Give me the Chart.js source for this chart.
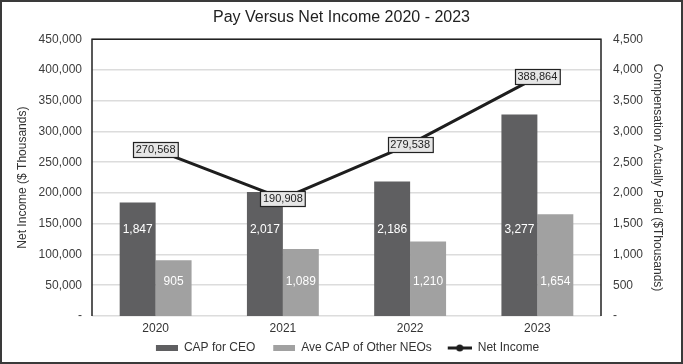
<!DOCTYPE html>
<html>
<head>
<meta charset="utf-8">
<script src="https://cdn.jsdelivr.net/npm/chart.js@4/dist/chart.umd.min.js"></script>
<style>
  html, body { margin: 0; padding: 0; background: #fff; }
  #wrap { width: 683px; height: 364px; position: relative; }
</style>
</head>
<body>
<div id="wrap"><canvas id="payChart" width="683" height="364"></canvas></div>
<script>
// data
const years = ["2020", "2021", "2022", "2023"];
const capCeo = [1847, 2017, 2186, 3277];
const capOtherNeos = [905, 1089, 1210, 1654];
const netIncome = [270568, 190908, 279538, 388864];

const FONT = "'Liberation Sans', Arial, sans-serif";
const CEO_COLOR = "#5f5f61";
const NEO_COLOR = "#a1a1a1";
const LINE_COLOR = "#1e1e1e";

function fmt(v) {
    return v === 0 ? "-" : v.toLocaleString("en-US");
}

// legend swatches, drawn on the right of a wider canvas so items get more room between them
function swatch(kind, color) {
    const c = document.createElement("canvas");
    c.width = 34;
    c.height = 8;
    const g = c.getContext("2d");
    if (kind === "bar") {
        g.fillStyle = color;
        g.fillRect(12, 1, 22, 6);
    } else {
        g.strokeStyle = color;
        g.lineWidth = 3;
        g.beginPath();
        g.moveTo(10, 4);
        g.lineTo(34, 4);
        g.stroke();
        g.fillStyle = color;
        g.beginPath();
        g.arc(22, 4, 3.5, 0, Math.PI * 2);
        g.fill();
    }
    return c;
}

// frame around the plot and the whole picture, plus value labels
const decorations = {
    id: "decorations",
    afterDraw(chart) {
        const ctx = chart.ctx;
        const a = chart.chartArea;
        ctx.save();
        ctx.strokeStyle = "#222";
        ctx.lineWidth = 1.5;
        ctx.beginPath();
        ctx.moveTo(a.left, a.bottom);
        ctx.lineTo(a.left, a.top);
        ctx.lineTo(a.right, a.top);
        ctx.lineTo(a.right, a.bottom);
        ctx.stroke();
        ctx.strokeStyle = "#3a3a3a";
        ctx.lineWidth = 2;
        ctx.strokeRect(1, 1, chart.width - 2, chart.height - 2);
        ctx.restore();
    },
    afterDatasetsDraw(chart) {
        const ctx = chart.ctx;
        const y1 = chart.scales.y1;
        ctx.save();
        ctx.textAlign = "center";
        ctx.textBaseline = "middle";

        // bar labels sit at a fixed height inside the bars
        ctx.font = "12px " + FONT;
        ctx.fillStyle = "#fff";
        [[0, 1400], [1, 550]].forEach(([di, anchor]) => {
            const meta = chart.getDatasetMeta(di);
            meta.data.forEach((bar, i) => {
                const v = chart.data.datasets[di].data[i];
                ctx.fillText(fmt(v), bar.x, y1.getPixelForValue(anchor));
            });
        });

        // boxed net income labels centred on the line points
        ctx.font = "11px " + FONT;
        const meta = chart.getDatasetMeta(2);
        meta.data.forEach((pt, i) => {
            const txt = fmt(chart.data.datasets[2].data[i]);
            const w = ctx.measureText(txt).width + 5;
            const h = 15;
            const x = Math.round(pt.x - w / 2) + 0.5;
            const y = Math.round(pt.y - h / 2) + 0.5;
            ctx.fillStyle = "#e6e6e6";
            ctx.fillRect(x, y, w, h);
            ctx.strokeStyle = "#222";
            ctx.lineWidth = 1.2;
            ctx.strokeRect(x, y, w, h);
            ctx.fillStyle = "#222";
            ctx.fillText(txt, pt.x, pt.y + 0.5);
        });
        ctx.restore();
    }
};

Chart.defaults.font.family = FONT;
Chart.defaults.color = "#3c3c3c";

new Chart(document.getElementById("payChart"), {
    type: "bar",
    data: {
        labels: years,
        datasets: [
            {
                label: "CAP for CEO",
                data: capCeo,
                backgroundColor: CEO_COLOR,
                yAxisID: "y1",
                order: 2,
                pointStyle: swatch("bar", CEO_COLOR)
            },
            {
                label: "Ave CAP of Other NEOs",
                data: capOtherNeos,
                backgroundColor: NEO_COLOR,
                yAxisID: "y1",
                order: 2,
                pointStyle: swatch("bar", NEO_COLOR)
            },
            {
                type: "line",
                label: "Net Income",
                data: netIncome,
                borderColor: LINE_COLOR,
                backgroundColor: LINE_COLOR,
                borderWidth: 3,
                pointRadius: 0,
                pointStyle: swatch("line", LINE_COLOR),
                yAxisID: "y",
                order: 1
            }
        ]
    },
    options: {
        responsive: false,
        animation: false,
        categoryPercentage: 0.565,
        barPercentage: 1.0,
        layout: { padding: { top: 0, bottom: 0, left: 0, right: 0 } },
        plugins: {
            title: {
                display: true,
                text: "Pay Versus Net Income 2020 - 2023",
                font: { size: 16, weight: "normal" },
                color: "#222",
                padding: { top: 8, bottom: 12 }
            },
            legend: {
                position: "bottom",
                labels: {
                    usePointStyle: true,
                    pointStyleWidth: 34,
                    font: { size: 12 },
                    color: "#333",
                    padding: 6,
                    boxHeight: 8,
                    sort: (a, b) => a.datasetIndex - b.datasetIndex
                }
            },
            tooltip: { enabled: false }
        },
        scales: {
            x: {
                grid: { display: false, drawTicks: false },
                border: { display: false },
                ticks: { padding: 5, font: { size: 12 }, color: "#333" },
                afterFit(s) { s.height = 20; }
            },
            y: {
                position: "left",
                min: 0,
                max: 450000,
                ticks: { stepSize: 50000, callback: fmt, padding: 10, font: { size: 12 } },
                grid: { color: "#dcdcdc", lineWidth: 1.5, drawTicks: false },
                border: { display: false },
                title: {
                    display: true,
                    text: "Net Income ($ Thousands)",
                    font: { size: 12 },
                    color: "#333",
                    padding: { top: 15, bottom: 0 }
                },
                afterFit(s) { s.width = 92; }
            },
            y1: {
                position: "right",
                min: 0,
                max: 4500,
                ticks: { stepSize: 500, callback: fmt, padding: 12, font: { size: 12 } },
                grid: { display: false, drawTicks: false },
                border: { display: false },
                title: {
                    display: true,
                    text: "Compensation Actually Paid ($Thousands)",
                    font: { size: 12 },
                    color: "#333",
                    padding: { top: 18, bottom: 0 }
                },
                afterFit(s) { s.width = 82; }
            }
        }
    },
    plugins: [decorations]
});
</script>
</body>
</html>
